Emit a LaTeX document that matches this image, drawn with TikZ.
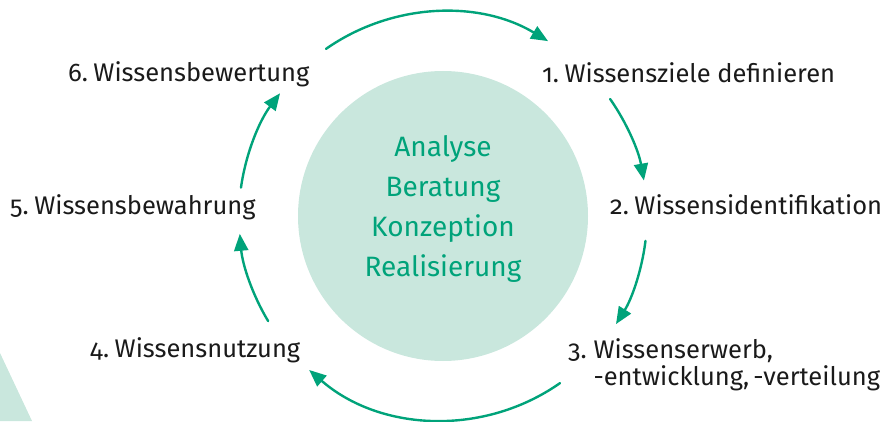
\documentclass[tikz,border=0pt]{standalone}
\usepackage{fontspec}
\setmainfont{Fira Sans}[Numbers=OldStyle]
\usepackage{tikz}
\usetikzlibrary{arrows.meta}
\definecolor{wmgreen}{RGB}{0,163,122}
\definecolor{wmlight}{RGB}{201,231,221}
\definecolor{wmtext}{RGB}{26,26,26}
\newcommand{\numgap}{\hspace{5.5pt}}

\begin{document}
\begin{tikzpicture}[x=1pt,y=1pt,line cap=round,line join=round,
    >={Triangle[length=17pt,width=14pt]},
    step label/.style={anchor=base west,inner sep=0pt,text=wmtext,font=\fontsize{25.5}{25}\selectfont},
    flow/.style={->,color=wmgreen,line width=2.4pt}]
      \useasboundingbox (0,0) rectangle (887,421);
      \fill[wmlight] (0,68) -- (32,0) -- (0,0) -- cycle;
      \node[circle,fill=wmlight,minimum size=290pt,inner sep=0pt] (core) at (443,205) {};
      \node[align=center,text=wmgreen,font=\fontsize{28}{40}\selectfont] (tasks) at (443,212)
        {Analyse\\Beratung\\Konzeption\\Realisierung};
      \node[step label] (s1) at (542,338) {1.\numgap Wissensziele definieren};
      \node[step label] (s2) at (610,206) {2.\numgap Wissensidentifikation};
      \node[step label] (s3) at (568,63) {3.\ \begin{tabular}[t]{@{}l@{}}Wissenserwerb,\\-entwicklung,\,-verteilung\end{tabular}};
      \node[step label] (s4) at (90,64) {4.\numgap Wissensnutzung};
      \node[step label] (s5) at (10,206) {5.\numgap Wissensbewahrung};
      \node[step label] (s6) at (68,339) {6.\numgap Wissensbewertung};
      \foreach \s/\e in {125/59,35/10,-7/-32,-55/-131,211/185,172/143}
      \draw[flow] ([shift={(\s:204pt)}]core.center) arc[start angle=\s,end angle=\e,radius=204pt];
    \end{tikzpicture}
\end{document}
